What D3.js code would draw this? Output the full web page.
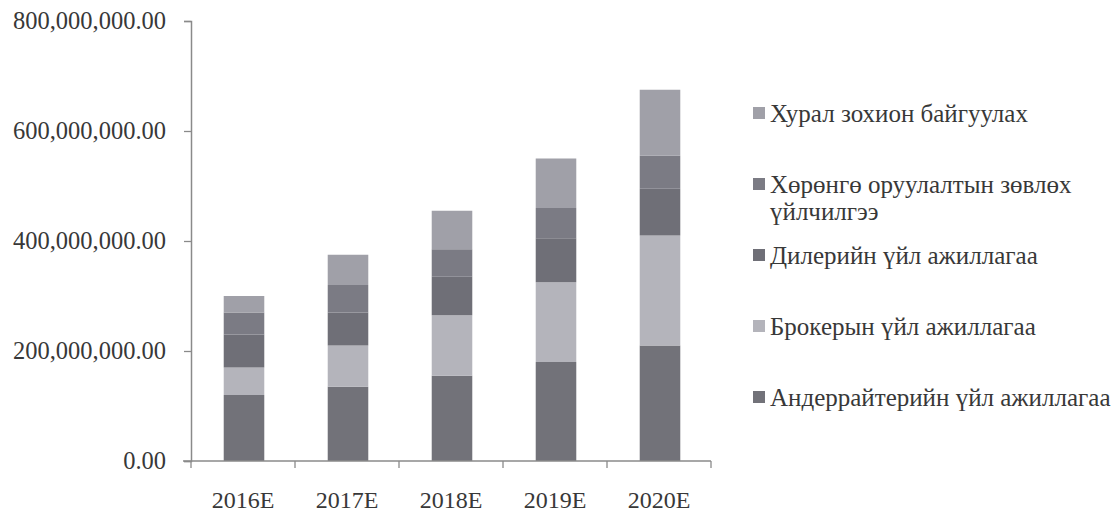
<!DOCTYPE html>
<html>
<head>
<meta charset="utf-8">
<script src="https://cdn.jsdelivr.net/npm/d3@7"></script>
<style>
  body { margin: 0; background: #fff; }
  svg { display: block; font-family: "Liberation Serif", "Times New Roman", serif; }
</style>
</head>
<body>
<svg id="chart" width="1118" height="515"></svg>
<script>
// Categories and stacked series (bottom to top)
const years = ["2016E", "2017E", "2018E", "2019E", "2020E"];
const seriesKeys = ["underwriting", "brokerage", "dealer", "advisory", "meetings"];
const seriesLabels = [
  ["Андеррайтерийн үйл ажиллагаа"],
  ["Брокерын үйл ажиллагаа"],
  ["Дилерийн үйл ажиллагаа"],
  ["Хөрөнгө оруулалтын зөвлөх", "үйлчилгээ"],
  ["Хурал зохион байгуулах"]
];
const underwriting = [120e6, 135e6, 155e6, 180e6, 210e6];
const brokerage    = [50e6, 75e6, 110e6, 145e6, 200e6];
const dealer       = [60e6, 60e6, 70e6, 80e6, 85e6];
const advisory     = [40e6, 50e6, 50e6, 55e6, 60e6];
const meetings     = [30e6, 55e6, 70e6, 90e6, 120e6];
const yTicks = [0, 200e6, 400e6, 600e6, 800e6];

const seriesColors = ["#727279", "#b4b4bb", "#6f6f77", "#7b7b84", "#a0a0a8"];

const rows = years.map((y, i) => ({
  year: y,
  underwriting: underwriting[i],
  brokerage: brokerage[i],
  dealer: dealer[i],
  advisory: advisory[i],
  meetings: meetings[i]
}));

const svg = d3.select("#chart");
const textColor = "#383838";
const axisColor = "#8a8a8a";

const x = d3.scaleBand().domain(years).range([191, 711]).padding(0);
const y = d3.scaleLinear().domain([0, 800e6]).range([461, 21]);
const barW = x.bandwidth() * 0.39;

const stacked = d3.stack().keys(seriesKeys)(rows);

// Bars
const layers = svg.append("g").selectAll("g")
  .data(stacked)
  .join("g")
  .attr("fill", (d, i) => seriesColors[i]);

layers.selectAll("rect")
  .data(d => d)
  .join("rect")
  .attr("x", d => x(d.data.year) + (x.bandwidth() - barW) / 2 + 1)
  .attr("width", barW)
  .attr("y", d => y(d[1]))
  .attr("height", d => y(d[0]) - y(d[1]));

// Y axis
const yAxis = svg.append("g")
  .attr("transform", "translate(191,0)")
  .call(d3.axisLeft(y).tickValues(yTicks).tickSize(7).tickPadding(18)
    .tickFormat(d3.format(",.2f")));
yAxis.select(".domain").attr("stroke", axisColor).attr("stroke-width", 1.5);
yAxis.selectAll(".tick line").attr("stroke", axisColor).attr("stroke-width", 1.3);
yAxis.selectAll(".tick text")
  .attr("fill", textColor)
  .style("font-family", "'Liberation Serif', serif")
  .style("font-size", "24.5px");

// X axis: labels centred on categories, ticks at category boundaries
const xAxis = svg.append("g")
  .attr("transform", "translate(0,461)")
  .call(d3.axisBottom(x).tickSize(0).tickPadding(30));
xAxis.select(".domain").remove();
xAxis.selectAll(".tick text")
  .attr("fill", textColor)
  .style("font-family", "'Liberation Serif', serif")
  .style("font-size", "24px");

const xr = x.range();
svg.append("line")
  .attr("x1", xr[0] - 8).attr("x2", xr[1])
  .attr("y1", 461).attr("y2", 461)
  .attr("stroke", axisColor).attr("stroke-width", 1.5);

const bounds = years.map(c => x(c)).concat([xr[1]]);
svg.append("g").selectAll("line")
  .data(bounds)
  .join("line")
  .attr("x1", d => d).attr("x2", d => d)
  .attr("y1", 461).attr("y2", 468)
  .attr("stroke", axisColor).attr("stroke-width", 1.3);

// Legend (top entry is the top of the stack)
const legendItems = seriesKeys.map((k, i) => ({ lines: seriesLabels[i], color: seriesColors[i] })).reverse();
const legend = svg.append("g").attr("transform", "translate(753,0)");
const lg = legend.selectAll("g")
  .data(legendItems)
  .join("g")
  .attr("transform", (d, i) => `translate(0,${113 + i * 71})`);

lg.append("rect")
  .attr("x", 0).attr("y", -6)
  .attr("width", 12).attr("height", 12)
  .attr("fill", d => d.color);

lg.append("text")
  .attr("fill", textColor)
  .style("font-size", "25px")
  .selectAll("tspan")
  .data(d => d.lines)
  .join("tspan")
  .attr("x", 17)
  .attr("y", (d, i) => i * 27)
  .attr("dy", "0.35em")
  .text(d => d);
</script>
</body>
</html>
